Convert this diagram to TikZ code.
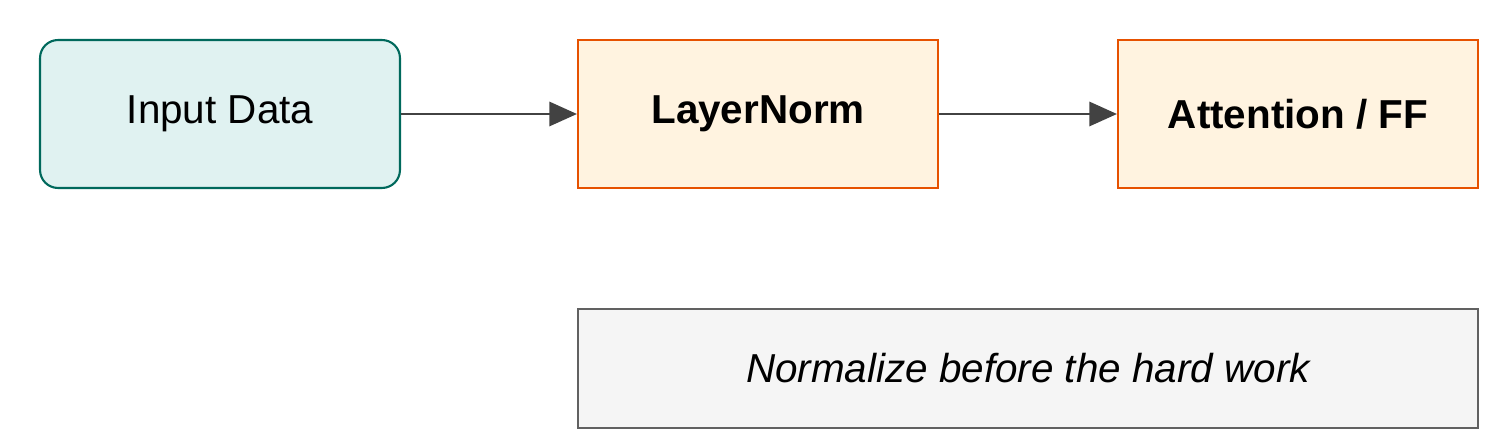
\documentclass[tikz,border=0pt]{standalone}
\usepackage{fontspec}
\setmainfont{Liberation Sans}
\usetikzlibrary{arrows.meta}
\definecolor{inFill}{HTML}{E0F2F1}
\definecolor{inDraw}{HTML}{00695C}
\definecolor{opFill}{HTML}{FFF3E0}
\definecolor{opDraw}{HTML}{E65100}
\definecolor{noteFill}{HTML}{F5F5F5}
\definecolor{noteDraw}{HTML}{616161}
\definecolor{arrowC}{HTML}{424242}
\begin{document}
\begin{tikzpicture}[x=0.02cm,y=-0.02cm,
  box/.style={draw,line width=1.2pt,minimum width=7.2cm,minimum height=2.96cm,inner sep=0pt,font=\fontsize{23}{27}\selectfont},
  inbox/.style={box,fill=inFill,draw=inDraw,rounded corners=0.36cm},
  opbox/.style={box,fill=opFill,draw=opDraw,font=\fontsize{23}{27}\selectfont\bfseries},
  notebox/.style={box,fill=noteFill,draw=noteDraw,minimum width=18cm,minimum height=2.38cm,font=\fontsize{23}{27}\selectfont\itshape},
  flow/.style={-{Triangle[length=0.55cm,width=0.48cm]},line width=1.6pt,draw=arrowC}]
\useasboundingbox (0,0) rectangle (1495,445);
\node[inbox] (data) at (220,114) {Input Data};
\node[opbox] (norm) at (758,114) {LayerNorm};
\node[opbox] (att) at (1298,114) {Attention / FF};
\node[notebox] (note) at (1028,368.5) {Normalize before the hard work};

\draw[flow] (data) -- (norm);
\draw[flow] (norm) -- (att);
\end{tikzpicture}
\end{document}
